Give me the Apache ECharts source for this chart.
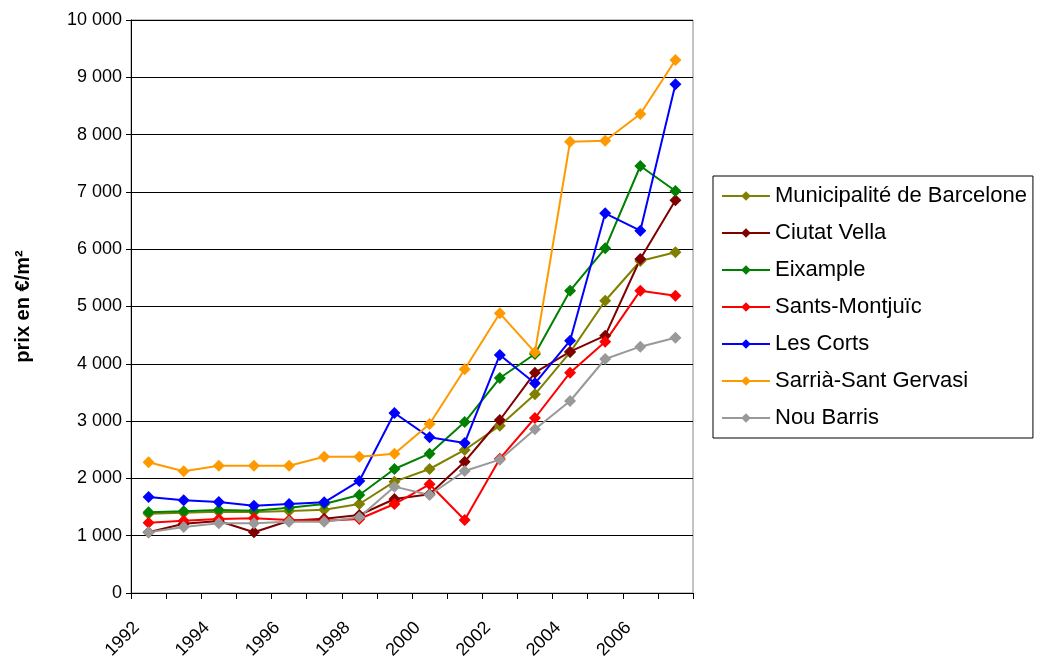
<!DOCTYPE html>
<html>
<head>
<meta charset="utf-8">
<script src="https://cdn.jsdelivr.net/npm/echarts@6/dist/echarts.min.js"></script>
<style>html,body{margin:0;padding:0;background:#fff}#c{width:1039px;height:663px}</style>
</head>
<body>
<div id="c"></div>
<script>
var years = ['1992','1993','1994','1995','1996','1997','1998','1999','2000','2001','2002','2003','2004','2005','2006','2007'];
var yTicks = [0,1000,2000,3000,4000,5000,6000,7000,8000,9000,10000];
var yAxisTitle = 'prix en €/m²';

var municipalite = [1384,1402,1419,1415,1431,1454,1553,1943,2164,2496,2920,3468,4200,5100,5794,5946];
var ciutatVella  = [1059,1210,1256,1059,1262,1297,1361,1640,1722,2292,3019,3845,4211,4491,5829,6853];
var eixample     = [1408,1426,1449,1437,1489,1553,1710,2164,2431,2984,3752,4171,5276,6015,7452,7016];
var santsMontjuic= [1227,1262,1291,1303,1274,1262,1291,1553,1897,1274,2344,3054,3845,4386,5276,5189];
var lesCorts     = [1675,1618,1588,1524,1553,1583,1955,3141,2717,2618,4154,3660,4404,6626,6323,8878];
var sarria       = [2281,2124,2222,2222,2222,2379,2379,2431,2949,3904,4881,4200,7876,7894,8360,9302];
var nouBarris    = [1059,1152,1216,1216,1245,1245,1321,1856,1710,2129,2327,2857,3351,4084,4299,4456];

var seriesDefs = [
  ['Municipalité de Barcelone', municipalite, '#808000'],
  ['Ciutat Vella', ciutatVella, '#800000'],
  ['Eixample', eixample, '#008000'],
  ['Sants-Montjuïc', santsMontjuic, '#ff0000'],
  ['Les Corts', lesCorts, '#0000ff'],
  ['Sarrià-Sant Gervasi', sarria, '#ff9900'],
  ['Nou Barris', nouBarris, '#999999']
];

var FONT = "'Liberation Sans', Arial, sans-serif";
var chart = echarts.init(document.getElementById('c'), null, {renderer: 'canvas'});

function fmt(v){ return String(v).replace(/\B(?=(\d{3})+(?!\d))/g, ' '); }

chart.setOption({
  animation: false,
  backgroundColor: '#fff',
  textStyle: {fontFamily: FONT},
  grid: {left: 131, right: 346, top: 20, bottom: 70, show: true, borderColor: '#888', borderWidth: 1},
  legend: {
    orient: 'vertical',
    left: 713, top: 176,
    padding: [9, 6, 9, 8],
    itemWidth: 48, itemHeight: 12, itemGap: 15,
    borderColor: '#000', borderWidth: 1,
    textStyle: {fontSize: 22, color: '#000', fontFamily: FONT, lineHeight: 22},
    data: seriesDefs.map(function(d){ return d[0]; })
  },
  xAxis: {
    type: 'category',
    data: years,
    boundaryGap: true,
    axisLine: {lineStyle: {color: '#000', width: 1}},
    axisTick: {show: true, interval: 0, length: 6, lineStyle: {color: '#000'}},
    axisLabel: {interval: 1, rotate: 45, margin: 20, padding: [0, 17, 0, 0], fontSize: 18, color: '#000', fontFamily: FONT},
    splitLine: {show: false}
  },
  yAxis: {
    type: 'value',
    min: yTicks[0], max: yTicks[yTicks.length-1], interval: 1000,
    name: yAxisTitle,
    nameLocation: 'middle',
    nameRotate: 90,
    nameGap: 98,
    nameTextStyle: {fontSize: 20, fontWeight: 'bold', color: '#000', fontFamily: FONT},
    axisLine: {show: true, lineStyle: {color: '#000', width: 1}},
    axisTick: {show: true, length: 5, lineStyle: {color: '#000'}},
    axisLabel: {fontSize: 18, color: '#000', margin: 9, formatter: fmt, fontFamily: FONT},
    splitLine: {show: true, lineStyle: {color: '#000', width: 1}}
  },
  series: seriesDefs.map(function(d){
    return {
      name: d[0], type: 'line', data: d[1],
      symbol: 'diamond', symbolSize: 12,
      lineStyle: {color: d[2], width: 2},
      itemStyle: {color: d[2]},
      emphasis: {disabled: true}
    };
  })
});
</script>
</body>
</html>
